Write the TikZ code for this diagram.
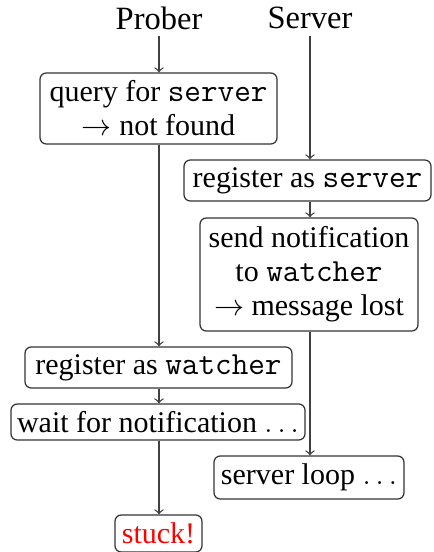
\documentclass[tikz,border=0pt]{standalone}
\usepackage{fontspec}
\setmainfont{Liberation Serif}
\newcommand{\mytt}[1]{{\ttfamily\fontsize{12.9}{13.6}\selectfont #1}}
\begin{document}
\begin{tikzpicture}[x=0.4pt,y=-0.4pt,
  every node/.style={font=\fontsize{12}{13.6}\selectfont},
  box/.style={draw=black!80, rounded corners=2.5pt, align=center, inner sep=0pt, line width=0.5pt},
  conn/.style={draw=black!75, ->, line width=0.5pt},
  head/.style={inner sep=0pt, font=\fontsize{13}{14}\selectfont}]
\useasboundingbox (0,0) rectangle (433,552);
\node[head] (prober) at (159,18) {Prober};
\node[head] (server) at (310,18) {Server};
\coordinate (ptop) at (159,36);
\coordinate (stop) at (310,36);
\node[box, minimum width=94.8pt, minimum height=28.4pt] (b1) at (158.5,108.5) {query for \mytt{server}\\$\rightarrow$ not found};
\node[box, minimum width=98.8pt, minimum height=16.4pt] (b2) at (307.5,180.5) {register as \mytt{server}};
\node[box, minimum width=87.2pt, minimum height=45.2pt] (b3) at (309,274.5) {send notification\\to \mytt{watcher}\\$\rightarrow$ message lost};
\node[box, minimum width=106.8pt, minimum height=16.4pt] (b4) at (158.5,367.5) {register as \mytt{watcher}};
\node[box, minimum width=117.6pt, minimum height=14.4pt] (b5) at (158,422) {wait for notification $\ldots$};
\node[box, minimum width=76pt, minimum height=17.2pt] (b6) at (309,477.5) {server loop $\ldots$};
\node[box, minimum width=34.8pt, minimum height=14.8pt, text=red] (b7) at (158.5,533.5) {stuck!};
\draw[conn] (ptop) -- (ptop |- b1.north);
\draw[conn] (ptop |- b1.south) -- (ptop |- b4.north);
\draw[conn] (ptop |- b4.south) -- (ptop |- b5.north);
\draw[conn] (ptop |- b5.south) -- (ptop |- b7.north);
\draw[conn] (stop) -- (stop |- b2.north);
\draw[conn] (stop |- b2.south) -- (stop |- b3.north);
\draw[conn] (stop |- b3.south) -- (stop |- b6.north);
\end{tikzpicture}
\end{document}
